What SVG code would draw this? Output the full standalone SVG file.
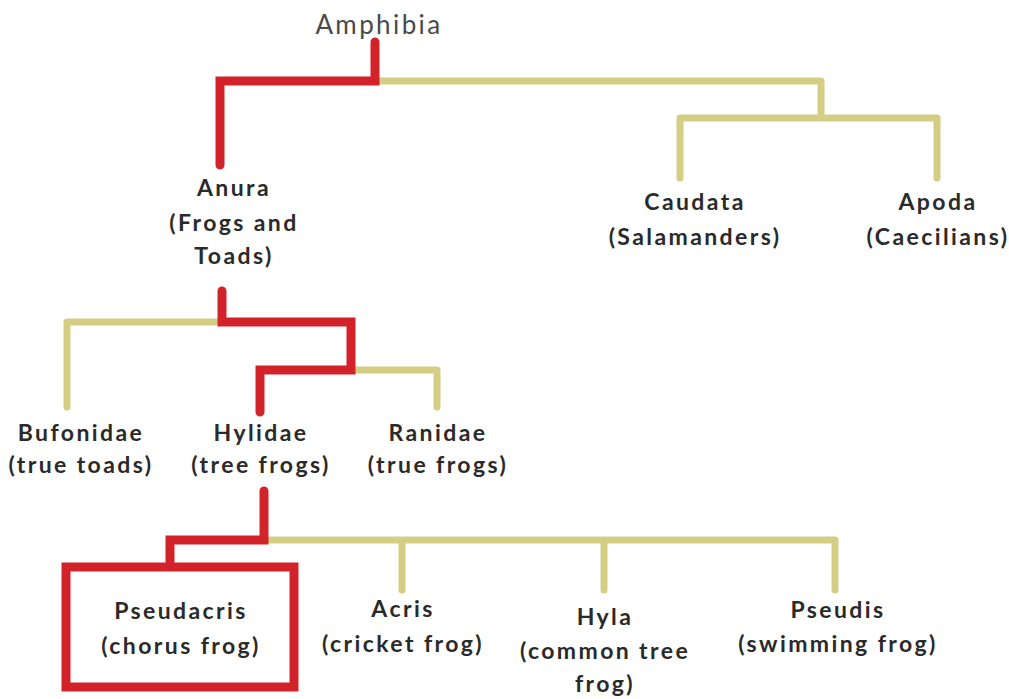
<svg xmlns="http://www.w3.org/2000/svg" width="1009" height="699" viewBox="0 0 1009 699">
<style>
.t{font-family:Lato,"Liberation Sans",sans-serif;font-size:23px;font-weight:bold;letter-spacing:2.4px;fill:#2a2a2a;text-anchor:middle}
.top{font-family:Lato,"Liberation Sans",sans-serif;font-size:26px;letter-spacing:2.4px;fill:#4a4a4a;text-anchor:middle}
.y{fill:none;stroke:#d4ce84;stroke-width:7;stroke-linecap:round;stroke-linejoin:round}
.r{fill:none;stroke:#d2232a;stroke-width:9;stroke-linecap:round;stroke-linejoin:miter}
</style>
<rect width="1009" height="699" fill="#fff"/>
<g id="connectors">
<path class="y" d="M375 81 H821 V118 M680 178 V118 H937 V178"/>
<path class="y" d="M67 407 V322 H222"/>
<path class="y" d="M352 370 H437 V407"/>
<path class="y" d="M263 540 H835 V590 M402 540 V590 M604 540 V590"/>
<path class="r" d="M375 42 V81 H220 V165"/>
<path class="r" d="M222 291 V322 H351 V370 H260 V412"/>
<path class="r" d="M264 491 V540 H170 V566"/>
</g>
<g id="amphibia"><text class="top" x="379" y="34">Amphibia</text></g>
<g id="anura"><text class="t" x="234" y="196">Anura</text><text class="t" x="234" y="231">(Frogs and</text><text class="t" x="234" y="264">Toads)</text></g>
<g id="caudata"><text class="t" x="695" y="210">Caudata</text><text class="t" x="695" y="245">(Salamanders)</text></g>
<g id="apoda"><text class="t" x="938" y="210">Apoda</text><text class="t" x="938" y="245">(Caecilians)</text></g>
<g id="bufonidae"><text class="t" x="81" y="441">Bufonidae</text><text class="t" x="81" y="473">(true toads)</text></g>
<g id="hylidae"><text class="t" x="261" y="441">Hylidae</text><text class="t" x="261" y="473">(tree frogs)</text></g>
<g id="ranidae"><text class="t" x="438" y="441">Ranidae</text><text class="t" x="438" y="473">(true frogs)</text></g>
<g id="pseudacris"><rect x="66" y="567" width="228" height="120" fill="none" stroke="#d2232a" stroke-width="9"/><text class="t" x="181" y="619">Pseudacris</text><text class="t" x="181" y="654">(chorus frog)</text></g>
<g id="acris"><text class="t" x="403" y="617">Acris</text><text class="t" x="403" y="652">(cricket frog)</text></g>
<g id="hyla"><text class="t" x="605" y="625">Hyla</text><text class="t" x="605" y="659">(common tree</text><text class="t" x="605" y="692">frog)</text></g>
<g id="pseudis"><text class="t" x="838" y="618">Pseudis</text><text class="t" x="838" y="652">(swimming frog)</text></g>
</svg>
